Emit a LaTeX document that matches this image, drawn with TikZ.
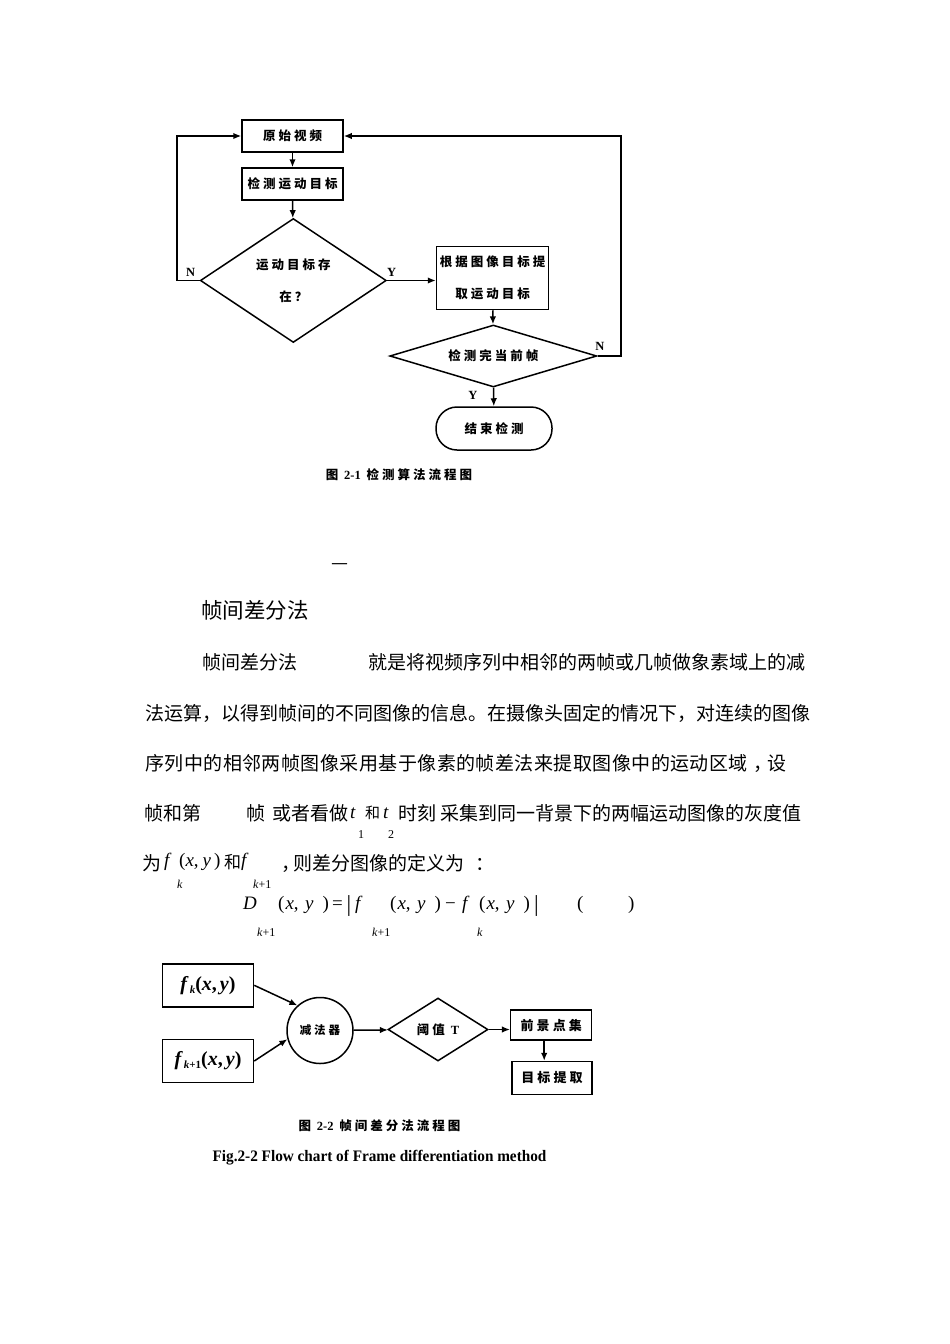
\documentclass[tikz,border=0pt]{standalone}
\usepackage{fontspec}
\setmainfont{Liberation Serif}
\newfontfamily\cjk{Noto Sans CJK SC}
\newfontfamily\cjkl[LetterSpace=2.4]{Noto Sans CJK SC}
\newfontfamily\cjkw[LetterSpace=24]{Noto Sans CJK SC}
\newcommand\pxy{(\kern1pt\textit{x},\kern6.5pt\textit{y}\kern9pt)}
\usepackage{tikz}
\usetikzlibrary{arrows.meta,calc,positioning,shapes.geometric}

\begin{document}
\begin{tikzpicture}[x=1pt,y=-1pt,
  box/.style={draw,line width=1.5pt,inner sep=0pt,font=\cjkw\bfseries\fontsize{12.5}{15}\selectfont},
  two/.style={align=center,font=\cjkw\bfseries\fontsize{12.5}{32}\selectfont},
  dia/.style={box,diamond},
  arr/.style={line width=1.5pt,-{Latex[length=8pt,width=6.5pt]}},
  yn/.style={font=\bfseries\fontsize{12.5}{12.5}\selectfont},
  capt/.style={font=\cjkw\bfseries\fontsize{12.5}{12.5}\selectfont},
  body/.style={anchor=base west,inner sep=0pt,font=\cjk\fontsize{19}{19}\selectfont},
  mth/.style={anchor=base west,inner sep=0pt,font=\fontsize{19}{19}\selectfont},
  subs/.style={anchor=base west,inner sep=0pt,font=\fontsize{12}{12}\selectfont}]
\useasboundingbox (0,0) rectangle (950,1344);
\fill[white] (0,0) rectangle (950,1344);

% figure 2-1
\node[box,minimum width=101,minimum height=32] (v) at (292.5,136) {原始视频};
\node[box,minimum width=101,minimum height=32] (d) at (292.5,184) {检测运动目标};
\node[dia,two,aspect=1.5,minimum width=186,minimum height=124] (q1) at (293.3,280.5) {运动目标存\\在？};
\node[box,two,minimum width=112,minimum height=63] (b) at (492.5,278) {根据图像目标提\\取运动目标};
\node[dia,aspect=3,minimum width=207,minimum height=62] (q2) at (493.3,356) {检测完当前帧};
\node[box,rounded corners=21,minimum width=116,minimum height=43] (e) at (494,428.5) {结束检测};
\draw[arr] (v) -- (d);
\draw[arr] (d) -- (q1);
\draw[arr] (q1.east) -- (q1.east -| b.west);
\draw[arr] (b) -- (q2);
\draw[arr] (q2) -- (e);
\draw[arr] (q1.west) -- ++(-22.5,0) |- (v.west);
\draw[arr] (q2.east) -- ++(23.3,0) |- (v.east);
\node[yn] (n1) at (190.7,272) {N};
\node[yn] (y1) at (391.7,272) {Y};
\node[yn] (n2) at (600,346.7) {N};
\node[yn] (y2) at (473,395) {Y};
\node[capt] (c1) at (399,475) {图 {\rmfamily 2-1} 检测算法流程图};

% text
\node[inner sep=0pt,font=\cjk\fontsize{19}{19}\selectfont] (dash) at (340,567) {—};
\node[body,font=\cjk\fontsize{21.5}{21.5}\selectfont] (head) at (201,618) {帧间差分法};
\node[body] (l1a) at (202,669) {帧间差分法};
\node[body] (l1b) at (368,669) {就是将视频序列中相邻的两帧或几帧做象素域上的减};
\node[body] (l2) at (145,720) {法运算，以得到帧间的不同图像的信息。在摄像头固定的情况下，对连续的图像};
\node[body,font=\cjkl\fontsize{19}{19}\selectfont] (l3a) at (145,770) {序列中的相邻两帧图像采用基于像素的帧差法来提取图像中的运动区域};
\node[body] (l3b) at (753,770) {，};
\node[body] (l3c) at (767,770) {设};
\node[body] (l4a) at (144,820) {帧和第};
\node[body] (l4b) at (246,820) {帧};
\node[body] (l4c) at (272,820) {或者看做};
\node[mth] (l4t1) at (350,818) {\textit{t}};
\node[subs] (l4s1) at (358,838) {1};
\node[body,font=\cjk\fontsize{15}{15}\selectfont] (l4d) at (365,818) {和};
\node[mth] (l4t2) at (383,818) {\textit{t}};
\node[subs] (l4s2) at (388,838) {2};
\node[body] (l4e) at (398,820) {时刻};
\node[body] (l4f) at (440,820) {采集到同一背景下的两幅运动图像的灰度值};
\node[body] (l5a) at (142,870) {为};
\node[mth] (l5f1) at (164,866) {\textit{f}};
\node[subs] (l5k1) at (177,888) {\textit{k}};
\node[mth] (l5p1) at (179,866) {(\textit{x},\kern4pt\textit{y}\kern3pt)};
\node[body,font=\cjk\fontsize{17}{17}\selectfont] (l5b) at (224,868) {和};
\node[mth] (l5f2) at (241,866) {\textit{f}};
\node[subs] (l5k2) at (253,888) {\textit{k}+1};
\node[body] (l5c) at (281,870) {，};
\node[body] (l5d) at (293,870) {则差分图像的定义为};
\node[body] (l5e) at (475,870) {：};

% equation
\foreach \x/\t [count=\i] in {243/\textit{D},278/\pxy,332/=,355/\textit{f},390/\pxy,445/−,462/\textit{f},479/\pxy,577/(,628/)}
  \node[mth] (eq\i) at (\x,909) {\t};
\foreach \x/\t [count=\i] in {257/\textit{k}+1,372/\textit{k}+1,477/\textit{k}}
  \node[subs] (es\i) at (\x,936) {\t};
\node[mth,font=\fontsize{23}{23}\selectfont] (bar1) at (346.5,911) {|};
\node[mth,font=\fontsize{23}{23}\selectfont] (bar2) at (534,911) {|};

% figure 2-2
\node[box,minimum width=91,minimum height=43,font=\bfseries\fontsize{20}{20}\selectfont] (fk) at (208,985.3)
  {\textit{f}\kern1pt\raisebox{-3pt}{\fontsize{11}{11}\selectfont\textit{k}}(\textit{x},\kern3pt\textit{y})};
\node[box,minimum width=91,minimum height=43,font=\bfseries\fontsize{20}{20}\selectfont] (fk1) at (208,1061)
  {\textit{f}\kern1pt\raisebox{-3pt}{\fontsize{11}{11}\selectfont\textit{k}+1}(\textit{x},\kern3pt\textit{y})};
\node[box,circle,minimum size=66,font=\cjkw\bfseries\fontsize{11.5}{11.5}\selectfont] (s) at (320,1030.5) {减法器};
\node[dia,aspect=1.6,minimum width=100,minimum height=63] (th) at (438,1029.5) {阈值 {\rmfamily T}};
\node[box,minimum width=81,minimum height=30,font=\cjkw\bfseries\fontsize{13}{13}\selectfont] (fg) at (551.2,1025) {前景点集};
\node[box,minimum width=80,minimum height=33,font=\cjkw\bfseries\fontsize{13}{13}\selectfont] (mt) at (552,1078) {目标提取};
\draw[arr] (fk.east) -- (s.132);
\draw[arr] (fk1.east) -- (s.195);
\draw[arr] (s) -- (th);
\draw[arr] (th.east) -- (th.east -| fg.west);
\draw[arr] ([xshift=-7]fg.south) -- ([xshift=-7]fg.south |- mt.north);
\node[capt] (c2) at (379.5,1125.7) {图 {\rmfamily 2-2} 帧间差分法流程图};
\node[font=\bfseries\fontsize{16}{16}\selectfont] (c3) at (379.5,1158)
  {\scalebox{0.953}[1]{Fig.2-2 Flow chart of Frame differentiation method}};
\end{tikzpicture}
\end{document}
